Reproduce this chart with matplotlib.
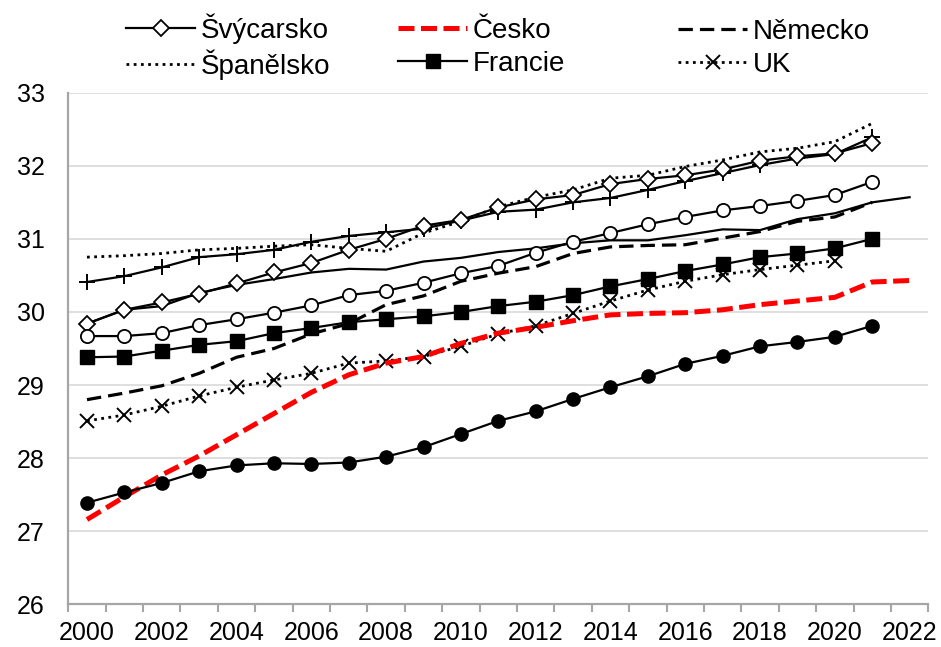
import numpy as np
import matplotlib
matplotlib.use("Agg")
import matplotlib.pyplot as plt
from matplotlib.ticker import FixedLocator

plt.rcParams['font.family'] = ['Liberation Sans', 'DejaVu Sans']

years = list(range(2000, 2023))
tick_years = list(range(2000, 2023, 2))

svycarsko = [29.84, 30.03, 30.13, 30.25, 30.39, 30.54, 30.67, 30.85, 31.00, 31.18, 31.26,
             31.43, 31.54, 31.60, 31.75, 31.82, 31.87, 31.95, 32.07, 32.13, 32.17, 32.31]
cesko = [27.16, 27.47, 27.77, 28.03, 28.32, 28.61, 28.90, 29.14, 29.30, 29.39, 29.57, 29.71,
         29.79, 29.88, 29.96, 29.98, 29.99, 30.03, 30.10, 30.15, 30.20, 30.41, 30.43]
nemecko = [28.80, 28.89, 28.99, 29.16, 29.38, 29.50, 29.70, 29.84, 30.10, 30.22, 30.42,
           30.53, 30.62, 30.80, 30.89, 30.91, 30.92, 31.01, 31.10, 31.24, 31.30, 31.50]
spanelsko = [30.75, 30.77, 30.80, 30.85, 30.87, 30.90, 30.92, 30.87, 30.83, 31.08, 31.24,
             31.44, 31.57, 31.67, 31.83, 31.87, 31.99, 32.08, 32.19, 32.24, 32.33, 32.58]
francie = [29.38, 29.39, 29.47, 29.55, 29.60, 29.71, 29.78, 29.86, 29.90, 29.94, 30.00,
           30.08, 30.14, 30.23, 30.35, 30.45, 30.56, 30.65, 30.75, 30.80, 30.87, 31.00]
uk = [28.51, 28.59, 28.71, 28.85, 28.97, 29.07, 29.16, 29.30, 29.33, 29.39, 29.53,
      29.70, 29.81, 29.98, 30.15, 30.30, 30.42, 30.51, 30.58, 30.64, 30.70]

# series without a legend entry
plus_line = [30.41, 30.49, 30.61, 30.75, 30.79, 30.85, 30.96, 31.04, 31.09, 31.14, 31.25,
             31.37, 31.40, 31.50, 31.56, 31.67, 31.79, 31.90, 32.01, 32.10, 32.16, 32.39]
plain_line = [29.84, 30.03, 30.08, 30.26, 30.37, 30.45, 30.54, 30.59, 30.58, 30.69, 30.74,
              30.82, 30.87, 30.94, 30.98, 30.98, 31.05, 31.13, 31.12, 31.27, 31.35, 31.50, 31.57]
open_circles = [29.67, 29.67, 29.71, 29.82, 29.90, 29.99, 30.09, 30.23, 30.29, 30.40, 30.53,
                30.63, 30.81, 30.96, 31.08, 31.20, 31.30, 31.39, 31.45, 31.52, 31.60, 31.78]
filled_circles = [27.39, 27.53, 27.66, 27.82, 27.90, 27.93, 27.92, 27.94, 28.02, 28.15, 28.33,
                  28.51, 28.64, 28.81, 28.97, 29.12, 29.29, 29.40, 29.53, 29.59, 29.66, 29.81]

def yrs(vals):
    return years[:len(vals)]

fig = plt.figure(figsize=(9.41, 6.47), dpi=100)
ax = fig.add_axes([68.3 / 941, 1 - 604.3 / 647, 860 / 941, 511.6 / 647])

lw = 1.6
h_sp, = ax.plot(yrs(spanelsko), spanelsko, color='black', lw=2, ls=(0, (1, 1.6)), label='Španělsko')
ax.plot(yrs(plus_line), plus_line, color='black', lw=lw, marker='+', ms=11, mew=1.4, label='_nolegend_')
ax.plot(yrs(plain_line), plain_line, color='black', lw=lw, label='_nolegend_')
h_sv, = ax.plot(yrs(svycarsko), svycarsko, color='black', lw=lw, marker='D', ms=8,
                mfc='white', mec='black', mew=1.3, label='Švýcarsko')
ax.plot(yrs(open_circles), open_circles, color='black', lw=lw, marker='o', ms=9.5,
        mfc='white', mec='black', mew=1.3, label='_nolegend_')
h_ne, = ax.plot(yrs(nemecko), nemecko, color='black', lw=2.3, ls=(0, (4.5, 2.2)), label='Německo')
h_fr, = ax.plot(yrs(francie), francie, color='black', lw=lw, marker='s', ms=10, label='Francie')
h_uk, = ax.plot(yrs(uk), uk, color='black', lw=2, ls=(0, (1, 1.6)), marker='x', ms=9.5,
                mew=1.4, label='UK')
h_cz, = ax.plot(yrs(cesko), cesko, color='#FF0000', lw=3.6, ls=(0, (3.2, 1.3)), label='Česko')
ax.plot(yrs(filled_circles), filled_circles, color='black', lw=lw, marker='o', ms=9.5,
        label='_nolegend_')

ax.set_xlim(1999.5, 2022.5)
ax.set_ylim(26, 33)
ax.set_yticks(range(26, 34))
ax.set_xticks(tick_years)
ax.xaxis.set_minor_locator(FixedLocator(np.arange(1999.5, 2023, 1)))
ax.tick_params(axis='x', which='major', length=0, pad=12, labelsize=18)
ax.tick_params(axis='x', which='minor', length=6, width=1.5, color='#A6A6A6')
ax.tick_params(axis='y', length=0, pad=17, labelsize=18)

ax.grid(axis='y', color='#D9D9D9', lw=1.2)
ax.set_axisbelow(True)
for s in ['top', 'right']:
    ax.spines[s].set_visible(False)
for s in ['left', 'bottom']:
    ax.spines[s].set_color('#A6A6A6')
    ax.spines[s].set_linewidth(1.6)

# one legend per column, placed like the original (x start, top offset in px, row gap)
cols = [([h_sv, h_sp], 126, 13, 0.2), ([h_cz, h_fr], 398, 18, 0.25), ([h_ne, h_uk], 678, 19, 0.25)]
for handles, xpx, ypx, gap in cols:
    fig.legend(handles=handles, loc='upper left', bbox_to_anchor=(xpx / 941, 1 - ypx / 647),
               frameon=False, fontsize=20, handlelength=2.5, handletextpad=0.2,
               labelspacing=gap, borderpad=0, borderaxespad=0)

fig.savefig('out.png', dpi=100)
